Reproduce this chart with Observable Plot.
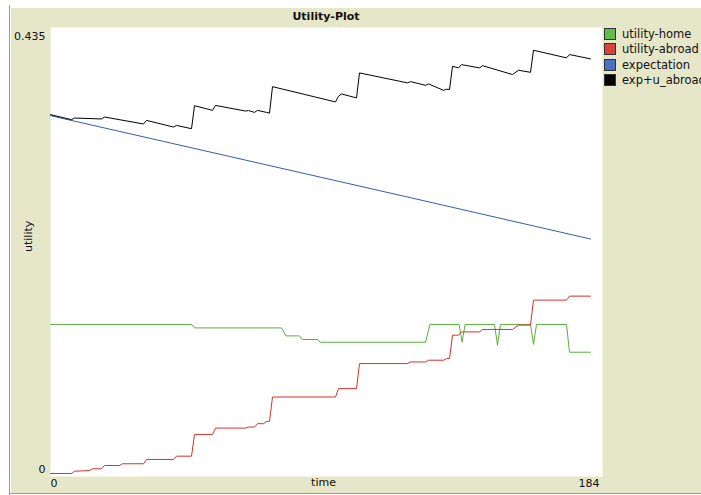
<!DOCTYPE html>
<html><head><meta charset="utf-8">
<script src="https://cdn.jsdelivr.net/npm/d3@7"></script>
<script src="https://cdn.jsdelivr.net/npm/@observablehq/plot@0.6"></script>
<style>
html,body{margin:0;padding:0;background:#fff;overflow:hidden;}
#wrap{position:relative;width:701px;height:495px;font-family:"DejaVu Sans",sans-serif;font-size:11px;color:#111;overflow:hidden;}
#panel{position:absolute;left:11px;top:8px;width:690px;height:485px;background:#e6e6c8;}
#vline{position:absolute;left:9px;top:5px;width:1px;height:490px;background:#9a9a9a;}
#hline{position:absolute;left:9px;top:493px;width:692px;height:1px;background:#9a9a9a;}
#title{position:absolute;left:50px;width:552px;top:10px;text-align:center;font-weight:bold;line-height:14px;}
#legend{position:absolute;left:604px;top:26px;font-size:11.5px;}
.item{display:flex;align-items:center;height:15.5px;white-space:nowrap;}
.sw{width:10px;height:10px;border:1px solid #333;margin-right:6px;flex:none;}
#chart{position:absolute;left:0;top:0;}
</style></head>
<body>
<div id="wrap">
  <div id="panel"></div>
  <div id="vline"></div>
  <div id="hline"></div>
  <div id="chart"></div>
  <div id="title">Utility-Plot</div>
  <div id="legend"></div>
</div>
<script>
// series names and colours
const seriesNames = ["utility-home", "utility-abroad", "expectation", "exp+u_abroad"];
const seriesColors = ["#59b03c", "#d73229", "#345da9", "#000000"];
const swatchColors = ["#62bb4f", "#d9443a", "#4a72c2", "#000000"];

// x axis tick labels / domain
const xTicks = [0, 184];
const yTicks = [0, 0.435];

// utility-home
const homeT = [0, 47, 48, 77, 78.5, 83, 84, 89, 90, 125, 126.5, 136.2, 137.2, 138.2, 148, 149, 150, 160, 161, 162, 172, 173, 180];
const homeV = [0.1454, 0.1454, 0.1420, 0.1420, 0.1342, 0.1342, 0.1307, 0.1307, 0.1280, 0.1280, 0.1454, 0.1454, 0.1280, 0.1454, 0.1454, 0.1250, 0.1454, 0.1454, 0.1260, 0.1454, 0.1454, 0.1183, 0.1183];

// utility-abroad
const abroadT = [0, 7, 8, 13, 14, 17, 18, 23, 24, 31, 32, 41, 42, 47, 48, 54, 55, 65, 66, 68, 69, 71, 72, 73, 74, 95, 96, 102, 103, 119, 120, 125, 126, 131, 132, 133, 134, 136, 137, 143, 144, 154, 156, 160, 161, 172, 173, 180];
const abroadV = [0, 0, 0.0022, 0.0029, 0.0046, 0.0046, 0.0078, 0.0078, 0.0095, 0.0095, 0.0137, 0.0137, 0.0169, 0.0169, 0.0381, 0.0381, 0.0443, 0.0443, 0.0453, 0.0453, 0.0486, 0.0486, 0.0508, 0.0508, 0.0746, 0.0746, 0.0828, 0.0828, 0.1072, 0.1072, 0.1088, 0.1088, 0.1105, 0.1105, 0.1121, 0.1121, 0.1349, 0.1349, 0.1381, 0.1381, 0.1405, 0.1405, 0.1447, 0.1447, 0.1691, 0.1691, 0.1730, 0.1730];

// expectation
const expT = [0, 60, 120, 180];
const expV = [0.349, 0.309, 0.269, 0.2287];

// exp+u_abroad
const sumT = [0, 7, 8, 17, 18, 31, 32, 41, 42, 47, 48, 54, 55, 65, 66, 68, 69, 72, 73, 74, 95, 96, 97, 102, 103, 119, 120, 125, 126, 131, 132, 133, 134, 136, 137, 143, 144, 154, 156, 160, 161, 172, 173, 180];
const sumV = [0.350, 0.3451, 0.3467, 0.3458, 0.3477, 0.3409, 0.3444, 0.3379, 0.3395, 0.3363, 0.3587, 0.3542, 0.3590, 0.3535, 0.3540, 0.3522, 0.3542, 0.3522, 0.3515, 0.3773, 0.3624, 0.3680, 0.3702, 0.3663, 0.3907, 0.3810, 0.3822, 0.3786, 0.3800, 0.3737, 0.3748, 0.3745, 0.3972, 0.3956, 0.3988, 0.3956, 0.3978, 0.3891, 0.3933, 0.3913, 0.4128, 0.4054, 0.4086, 0.4044];

const toRows = (T, V) => T.map((t, i) => ({t, v: V[i]}));
const series = [toRows(homeT, homeV), toRows(abroadT, abroadV), toRows(expT, expV), toRows(sumT, sumV)];

const chart = Plot.plot({
  width: 701,
  height: 495,
  marginLeft: 50,
  marginRight: 99,
  marginTop: 27,
  marginBottom: 19,
  style: {background: "transparent", fontFamily: "DejaVu Sans, sans-serif", fontSize: "11px", color: "#111", overflow: "visible"},
  x: {domain: [xTicks[0], xTicks[1]], axis: null},
  y: {domain: [yTicks[0], yTicks[1]], axis: null, insetBottom: 3},
  marks: [
    Plot.frame({fill: "white"}),
    ...series.map((rows, i) => Plot.line(rows, {x: "t", y: "v", stroke: seriesColors[i], strokeWidth: 1})),
    Plot.axisY([yTicks[1]], {tickSize: 0, tickPadding: 5, dy: 9, label: null, tickFormat: d => String(d)}),
    Plot.axisY([yTicks[0]], {tickSize: 0, tickPadding: 5, dy: -4, label: null, tickFormat: d => String(d)}),
    Plot.axisX([xTicks[0]], {tickSize: 0, tickPadding: 3, textAnchor: "start", label: null, tickFormat: d => String(d)}),
    Plot.axisX([xTicks[1]], {tickSize: 0, tickPadding: 3, textAnchor: "end", dx: -3, label: null, tickFormat: d => String(d)}),
    Plot.text(["time"], {text: d => d, frameAnchor: "bottom", dy: 9, dx: -3, fill: "#111"}),
    Plot.text(["utility"], {text: d => d, frameAnchor: "left", dx: -22, rotate: -90, fill: "#111"})
  ]
});
document.getElementById("chart").appendChild(chart);

const legend = document.getElementById("legend");
seriesNames.forEach((name, i) => {
  const item = document.createElement("div");
  item.className = "item";
  const sw = document.createElement("span");
  sw.className = "sw";
  sw.style.background = swatchColors[i];
  const label = document.createElement("span");
  label.textContent = name;
  item.appendChild(sw);
  item.appendChild(label);
  legend.appendChild(item);
});
</script>
</body></html>
